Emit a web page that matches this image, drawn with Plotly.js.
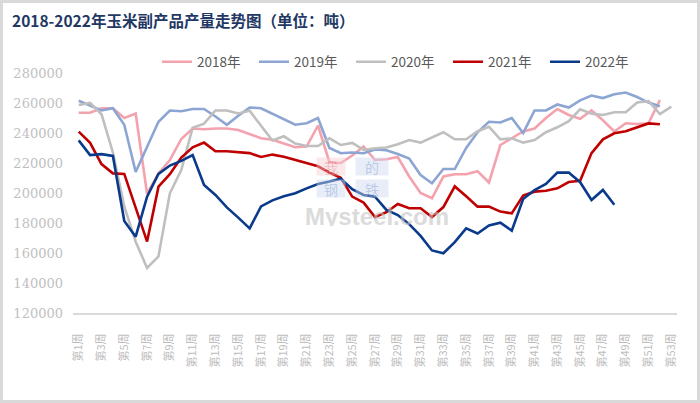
<!DOCTYPE html>
<html>
<head>
<meta charset="utf-8">
<script src="https://cdn.plot.ly/plotly-3.0.1.min.js"></script>
<style>
  html, body { margin: 0; padding: 0; background: #ffffff; }
  #wrap { position: relative; width: 700px; height: 403px; }
  #chart { width: 700px; height: 403px; }
  #frame { position: absolute; left: 0; top: 0; width: 700px; height: 403px; box-sizing: border-box;
           border: 3px solid #d9d9d9; pointer-events: none; }
</style>
</head>
<body>
<div id="wrap"><div id="chart"></div><div id="frame"></div></div>
<script>
const weeks = ["第1周","第2周","第3周","第4周","第5周","第6周","第7周","第8周","第9周","第10周",
  "第11周","第12周","第13周","第14周","第15周","第16周","第17周","第18周","第19周","第20周",
  "第21周","第22周","第23周","第24周","第25周","第26周","第27周","第28周","第29周","第30周",
  "第31周","第32周","第33周","第34周","第35周","第36周","第37周","第38周","第39周","第40周",
  "第41周","第42周","第43周","第44周","第45周","第46周","第47周","第48周","第49周","第50周",
  "第51周","第52周","第53周"];

const tickLabels = ["第1周","第3周","第5周","第7周","第9周","第11周","第13周","第15周","第17周",
  "第19周","第21周","第23周","第25周","第27周","第29周","第31周","第33周","第35周","第37周",
  "第39周","第41周","第43周","第45周","第47周","第49周","第51周","第53周"];

const seriesNames = ["2018年","2019年","2020年","2021年","2022年"];

const y2018 = [253500,253500,256500,256500,250000,253000,199500,213000,222000,236000,
  243000,242500,243000,243000,242000,239000,236500,235500,233000,230500,
  231000,245000,220500,220000,225000,231000,222000,222500,224000,211000,
  200000,196500,211000,212500,212500,214500,207000,232000,236500,241000,
  243000,250000,256000,252000,249500,255000,248500,241000,246500,246000,
  246500,262000,null];

const y2019 = [261500,258000,255000,256500,245500,214000,230500,247500,255000,254500,
  256000,256000,251000,245500,251500,257000,256500,253000,249500,245500,
  246500,250000,230000,226500,227000,226500,229000,228500,226000,223000,
  212000,206500,216000,216000,230000,240500,247500,247000,250000,240000,
  255000,255000,259000,257000,261800,265000,263300,265800,267000,264000,
  260300,257800,null];

const y2020 = [258700,260000,252500,227000,191000,167500,150000,157800,199800,215300,
  243500,246200,255000,255000,253000,254800,244800,235000,237800,233000,
  231300,231300,236400,232000,233400,228700,229800,230300,232500,235300,
  233600,237300,240500,235800,235800,241200,244200,235800,236400,233600,
  235300,240500,243800,247900,255800,252900,252000,253800,253800,260300,
  261200,252600,257600];

const y2021 = [240900,233400,219300,213100,212700,190000,167600,204200,212500,223600,
  230400,233600,227800,227800,227000,226600,224000,225600,224200,222200,
  220000,217800,213600,210100,197600,193600,183900,187200,192700,189800,
  189800,184000,190600,204400,197800,190900,190900,187600,186400,198300,
  200900,201500,203100,207300,208100,226600,235800,239800,241100,243800,
  246400,245800,null];

const y2022 = [235100,225300,225900,224700,181300,170900,197600,212700,218300,221400,
  225300,205300,198700,190400,183600,176400,191100,195100,197800,199800,
  203100,206000,207600,209500,202500,198700,197600,188700,185300,179200,
  171400,161700,159800,167200,176400,173000,178300,180200,174900,196000,
  202000,206000,213600,213600,207200,195300,202000,192200];

const yTicks = [120000,140000,160000,180000,200000,220000,240000,260000,280000];

const colors = ["#F4A2AE","#8CA5D3","#BFBFBF","#C00000","#0A3A8C"];
const allY = [y2018, y2019, y2020, y2021, y2022];

const traces = allY.map((ys, i) => ({
  type: "scatter",
  mode: "lines",
  name: seriesNames[i],
  x: weeks.slice(0, ys.length),
  y: ys,
  line: { color: colors[i], width: 2.6 },
  connectgaps: false,
  hoverinfo: "skip"
}));

const layout = {
  width: 700,
  height: 403,
  paper_bgcolor: "#ffffff",
  plot_bgcolor: "#ffffff",
  margin: { l: 73, r: 23, t: 73, b: 90 },
  title: {
    text: "<b>2018-2022年玉米副产品产量走势图（单位：吨）</b>",
    font: { family: "Noto Sans CJK SC", size: 15.5, color: "#1F3864" },
    xref: "container", yref: "container",
    x: 12 / 700, xanchor: "left",
    y: 1 - 22 / 403, yanchor: "middle"
  },
  showlegend: true,
  legend: {
    orientation: "h",
    x: (157 - 73) / 604, xanchor: "left",
    y: (313 - 62) / 240, yanchor: "middle",
    font: { family: "Noto Sans CJK SC", size: 13.5, color: "#595959" },
    entrywidth: 52, entrywidthmode: "pixels",
    traceorder: "normal",
    bgcolor: "rgba(0,0,0,0)"
  },
  xaxis: {
    type: "category",
    categoryorder: "array",
    categoryarray: weeks,
    range: [-0.5, 52.5],
    showgrid: false,
    zeroline: false,
    showline: true,
    linecolor: "#d9d9d9",
    linewidth: 2,
    ticks: "",
    tickmode: "array",
    tickvals: tickLabels,
    ticktext: tickLabels,
    tickangle: -90,
    ticklabelstandoff: 14,
    tickfont: { family: "Noto Sans CJK SC", size: 11, color: "#bdbdbd" },
    fixedrange: true
  },
  yaxis: {
    range: [120000, 280000],
    tickmode: "array",
    tickvals: yTicks,
    ticktext: yTicks.map(String),
    showgrid: false,
    zeroline: false,
    showline: false,
    ticks: "",
    ticklabelstandoff: 9,
    tickfont: { family: "DejaVu Serif", size: 13, color: "#bfbfbf" },
    fixedrange: true
  },
  annotations: [
    { text: "我", xref: "paper", yref: "paper", x: (331 - 73) / 604, y: (313 - 166) / 240,
      showarrow: false, font: { family: "Noto Sans CJK SC", size: 14, color: "#e0707c" },
      bgcolor: "#f7cdd1", opacity: 0.45, width: 28, height: 17, borderpad: 0 },
    { text: "的", xref: "paper", yref: "paper", x: (372 - 73) / 604, y: (313 - 166) / 240,
      showarrow: false, font: { family: "Noto Sans CJK SC", size: 14, color: "#6a8cc8" },
      bgcolor: "#cdd9ee", opacity: 0.45, width: 32, height: 17, borderpad: 0 },
    { text: "钢", xref: "paper", yref: "paper", x: (331 - 73) / 604, y: (313 - 188) / 240,
      showarrow: false, font: { family: "Noto Sans CJK SC", size: 14, color: "#6a8cc8" },
      bgcolor: "#cdd9ee", opacity: 0.45, width: 28, height: 17, borderpad: 0 },
    { text: "铁", xref: "paper", yref: "paper", x: (372 - 73) / 604, y: (313 - 188) / 240,
      showarrow: false, font: { family: "Noto Sans CJK SC", size: 14, color: "#6a8cc8" },
      bgcolor: "#cdd9ee", opacity: 0.45, width: 32, height: 17, borderpad: 0 },
    { text: "<b>Mysteel.com</b>", xref: "paper", yref: "paper", x: (377 - 73) / 604, y: (313 - 216) / 240,
      showarrow: false, font: { family: "Liberation Sans", size: 24, color: "#c4c4c4" },
      opacity: 0.6, height: 20, borderpad: 0 }
  ]
};

Plotly.newPlot("chart", traces, layout, { displayModeBar: false, staticPlot: true });
</script>
</body>
</html>
